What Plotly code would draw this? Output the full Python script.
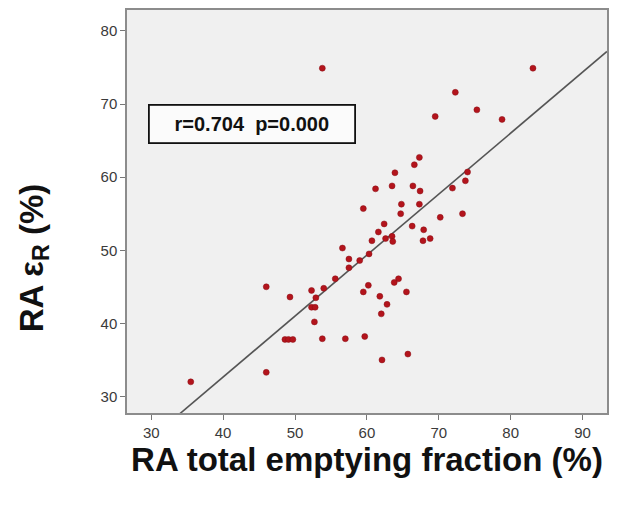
import plotly.graph_objects as go

# RA total emptying fraction (%) vs RA strain (%)
ef_total = [53.8, 83.1, 72.3, 75.3, 69.5, 78.8, 67.3, 66.6, 63.9, 74.0,
            73.7, 61.2, 63.5, 66.4, 67.4, 71.9, 59.5, 64.8, 67.3, 64.7,
            70.2, 73.3, 62.4, 66.3, 61.6, 67.9, 60.7, 62.6, 63.5, 63.6,
            67.8, 68.8, 60.3, 57.5, 59.0, 57.5, 55.6, 60.2, 46.0, 49.3,
            52.3, 54.0, 59.5, 52.9, 52.3, 52.8, 52.7, 48.6, 49.1, 49.7,
            53.8, 57.0, 59.7, 64.4, 63.8, 65.5, 61.8, 62.8, 62.0, 65.7,
            62.1, 35.5, 46.0, 56.6]
strain = [74.9, 74.9, 71.6, 69.2, 68.3, 67.9, 62.7, 61.7, 60.6, 60.7,
          59.5, 58.4, 58.8, 58.8, 58.1, 58.5, 55.7, 56.3, 56.3, 55.0,
          54.5, 55.0, 53.6, 53.3, 52.5, 52.8, 51.3, 51.6, 51.9, 51.2,
          51.3, 51.6, 49.5, 48.8, 48.6, 47.6, 46.1, 45.2, 45.0, 43.6,
          44.5, 44.8, 44.3, 43.5, 42.2, 42.2, 40.2, 37.8, 37.8, 37.8,
          37.9, 37.9, 38.2, 46.1, 45.6, 44.3, 43.7, 42.6, 41.3, 35.8,
          35.0, 32.0, 33.3, 50.3]

x_range = [26.63, 93.4]
y_range = [27.74, 82.86]
x_ticks = [30, 40, 50, 60, 70, 80, 90]
y_ticks = [30, 40, 50, 60, 70, 80]
fit_slope = 0.834
fit_intercept = -0.70
stats_text = "r=0.704  p=0.000"
x_title = "RA total emptying fraction (%)"
y_title = "RA ε<sub>R</sub> (%)"

fit_x = [x_range[0], x_range[1]]
fit_y = [fit_slope * v + fit_intercept for v in fit_x]

FONT = "Liberation Sans, Arial"

fig = go.Figure()
fig.add_trace(go.Scatter(x=fit_x, y=fit_y, mode="lines",
                         line=dict(color="#555555", width=1.6),
                         hoverinfo="skip", showlegend=False))
fig.add_trace(go.Scatter(x=ef_total, y=strain, mode="markers",
                         marker=dict(color="#b3141c", size=6,
                                     line=dict(color="#8a0f14", width=0.5)),
                         showlegend=False))

fig.add_annotation(x=44.0, y=67.3, xref="x", yref="y", text="<b>" + stats_text + "</b>",
                   showarrow=False, font=dict(family=FONT, size=20, color="#111111"),
                   bgcolor="#fbfbfb", bordercolor="#111111", borderwidth=1.8,
                   width=200, height=32, borderpad=2, align="center")

# y-axis title placed as rotated annotation (offset below plot centre as in reference)
fig.add_annotation(x=-0.195, y=0.385, xref="paper", yref="paper",
                   xanchor="center", yanchor="middle",
                   text="<b>" + y_title + "</b>", textangle=-90, showarrow=False,
                   font=dict(family=FONT, size=33, color="#111111"))

axis_common = dict(showgrid=False, zeroline=False, showline=True, linecolor="#8c8c8c",
                   linewidth=1.5, mirror=True, ticks="outside", ticklen=5,
                   tickcolor="#777777", tickwidth=1,
                   tickfont=dict(family=FONT, size=15, color="#3a3a3a"))

fig.update_xaxes(range=x_range, tickvals=x_ticks, **axis_common,
                 title=dict(text="<b>" + x_title + "</b>",
                            font=dict(family=FONT, size=33, color="#111111"),
                            standoff=8))
fig.update_yaxes(range=y_range, tickvals=y_ticks, **axis_common)

fig.update_layout(width=618, height=508,
                  margin=dict(l=127, r=11, t=8, b=95),
                  plot_bgcolor="#f0f0f0", paper_bgcolor="#ffffff")

fig.write_html("out.html")
